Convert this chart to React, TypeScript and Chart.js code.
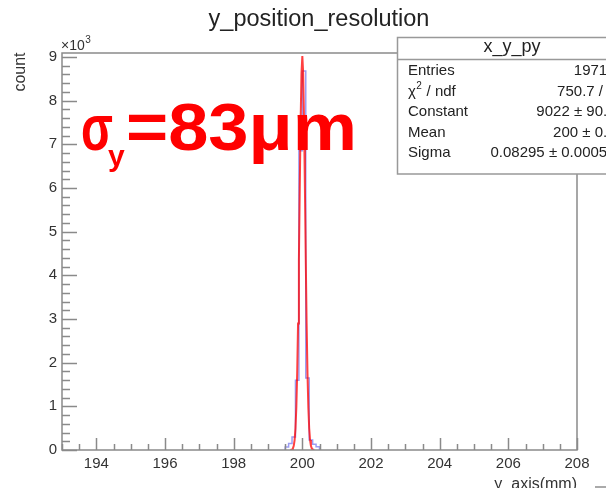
import React, { useEffect, useRef } from "react";
import { Chart, registerables } from "chart.js";

Chart.register(...registerables);

// Histogram: lower bin edges (0.1 mm bins) and counts; last edge closes the last bin
const histEdges = [199.5, 199.6, 199.7, 199.8, 199.9, 200.0, 200.1, 200.2, 200.3, 200.4, 200.5];
const histCounts = [70, 150, 300, 1600, 6850, 8680, 1650, 230, 130, 75, 0];

// Gaussian fit curve points
const fitX = [
  199.65, 199.675, 199.7, 199.725, 199.75, 199.775, 199.8, 199.825, 199.85, 199.875,
  199.9, 199.925, 199.95, 199.975, 200.0, 200.025, 200.05, 200.075, 200.1, 200.125,
  200.15, 200.175, 200.2, 200.225, 200.25, 200.275, 200.3, 200.325, 200.35,
];
const fitY = [
  1, 4, 13, 37, 96, 228, 493, 975, 1759, 2899,
  4363, 5995, 7523, 8621, 9022, 8621, 7523, 5995, 4363, 2899,
  1759, 975, 493, 228, 96, 37, 13, 4, 1,
];

const xTicks = [194, 196, 198, 200, 202, 204, 206, 208];
const yTicks = [0, 1000, 2000, 3000, 4000, 5000, 6000, 7000, 8000, 9000];
const xMinorStep = 0.5;
const yMinorStep = 200;

const titleText = "y_position_resolution";
const xTitle = "y_axis(mm)";
const yTitle = "count";
const statsTitle = "x_y_py";
const statsLabels = ["Entries", "χ2 / ndf", "Constant", "Mean", "Sigma"];
const statsValues = ["19710", "750.7 / 7", "9022 ± 90.4", "200 ± 0.0", "0.08295 ± 0.00054"];
const annotationMain = "σ";
const annotationSub = "y";
const annotationRest = "=83μm";

const FONT = "'Liberation Sans', Arial, Helvetica, sans-serif";

const decorPlugin = {
  id: "rootDecor",
  afterDatasetsDraw(chart: any) {
    const { ctx, chartArea, scales } = chart;
    const xs = scales.x;
    const ys = scales.y;
    const { left, right, top, bottom } = chartArea;
    ctx.save();
    ctx.strokeStyle = "#8a8a8a";
    ctx.lineWidth = 1.5;
    ctx.beginPath();
    for (let v = xs.min; v <= xs.max + 1e-9; v += xMinorStep) {
      const px = Math.round(xs.getPixelForValue(v)) + 0.5;
      const major = xTicks.some((t) => Math.abs(t - v) < 1e-6);
      const len = major ? 12 : 6;
      ctx.moveTo(px, bottom);
      ctx.lineTo(px, bottom - len);
    }
    for (let v = 0; v <= ys.max + 1e-9; v += yMinorStep) {
      const py = Math.round(ys.getPixelForValue(v)) + 0.5;
      const major = yTicks.some((t) => Math.abs(t - v) < 1e-6);
      const len = major ? 15 : 8;
      ctx.moveTo(left, py);
      ctx.lineTo(left + len, py);
    }
    ctx.stroke();
    ctx.strokeRect(left, top, right - left, bottom - top);
    ctx.restore();
  },
  afterDraw(chart: any) {
    const { ctx, chartArea } = chart;
    ctx.save();
    ctx.fillStyle = "#222";
    ctx.font = `23.5px ${FONT}`;
    ctx.textAlign = "center";
    ctx.textBaseline = "middle";
    ctx.fillText(titleText, 319, 20);

    ctx.textAlign = "left";
    ctx.textBaseline = "alphabetic";
    ctx.font = `14px ${FONT}`;
    ctx.fillStyle = "#333";
    ctx.fillText("×10", chartArea.left - 1, 50);
    const w10 = ctx.measureText("×10").width;
    ctx.font = `10px ${FONT}`;
    ctx.fillText("3", chartArea.left - 1 + w10 + 0.5, 43);

    ctx.save();
    ctx.translate(21, 72);
    ctx.rotate(-Math.PI / 2);
    ctx.font = `16px ${FONT}`;
    ctx.textAlign = "center";
    ctx.textBaseline = "middle";
    ctx.fillStyle = "#333";
    ctx.fillText(yTitle, 0, 0);
    ctx.restore();

    ctx.font = `16px ${FONT}`;
    ctx.textAlign = "right";
    ctx.textBaseline = "alphabetic";
    ctx.fillStyle = "#333";
    ctx.fillText(xTitle, chartArea.right, 488.5);

    ctx.fillStyle = "#aaa";
    ctx.fillRect(595, 486, 11, 2);

    const bx = 397.5, by = 37.5, bw = 260, bh = 136.5;
    ctx.fillStyle = "#fff";
    ctx.fillRect(bx, by, bw, bh);
    ctx.strokeStyle = "#999";
    ctx.lineWidth = 1.5;
    ctx.strokeRect(bx, by, bw, bh);
    ctx.beginPath();
    ctx.moveTo(bx, 59.5);
    ctx.lineTo(bx + bw, 59.5);
    ctx.stroke();
    ctx.fillStyle = "#222";
    ctx.font = `18px ${FONT}`;
    ctx.textAlign = "center";
    ctx.textBaseline = "middle";
    ctx.fillText(statsTitle, 512, 47);
    ctx.font = `15px ${FONT}`;
    const rowsY = [71, 91.5, 112, 132.5, 153];
    for (let i = 0; i < statsLabels.length; i++) {
      ctx.textAlign = "left";
      const lab = statsLabels[i];
      if (lab.startsWith("χ2")) {
        ctx.font = `15px ${FONT}`;
        ctx.fillText("χ", 408, rowsY[i]);
        const wc = ctx.measureText("χ").width;
        ctx.font = `10px ${FONT}`;
        ctx.fillText("2", 408 + wc + 0.5, rowsY[i] - 5);
        const w2 = ctx.measureText("2").width;
        ctx.font = `15px ${FONT}`;
        ctx.fillText(lab.slice(2), 408 + wc + w2 + 1, rowsY[i]);
      } else {
        ctx.fillText(lab, 408, rowsY[i]);
      }
      ctx.textAlign = "right";
      ctx.fillText(statsValues[i], 615.5, rowsY[i]);
    }

    // big red annotation
    ctx.fillStyle = "#ff0000";
    ctx.textAlign = "left";
    ctx.textBaseline = "alphabetic";
    ctx.font = `bold 64px ${FONT}`;
    const ws = ctx.measureText(annotationMain).width;
    ctx.save();
    ctx.translate(81, 150);
    ctx.scale(32 / ws, 1);
    ctx.fillText(annotationMain, 0, 0);
    ctx.restore();
    ctx.font = `bold 30px ${FONT}`;
    ctx.fillText(annotationSub, 108, 166);
    ctx.font = `bold 66px ${FONT}`;
    const wr = ctx.measureText(annotationRest).width;
    ctx.save();
    ctx.translate(126, 150);
    ctx.scale(231 / wr, 1);
    ctx.fillText(annotationRest, 0, 0);
    ctx.restore();
    ctx.restore();
  },
};

export default function App() {
  const canvasRef = useRef<HTMLCanvasElement | null>(null);
  useEffect(() => {
    if (!canvasRef.current) return;
    const histData = [{ x: histEdges[0], y: 0 }].concat(histEdges.map((x, i) => ({ x, y: histCounts[i] })));
    const fitData = fitX.map((x, i) => ({ x, y: fitY[i] }));
    const chart = new Chart(canvasRef.current, {
      type: "line",
      data: {
        datasets: [
          {
            label: "fit",
            data: fitData,
            borderColor: "rgba(255,0,0,0.75)",
            borderWidth: 2,
            pointRadius: 0,
            tension: 0,
            order: 0,
          },
          {
            label: "hist",
            data: histData,
            stepped: "before",
            borderColor: "rgba(90,90,235,0.6)",
            borderWidth: 1.5,
            pointRadius: 0,
            order: 1,
          },
        ],
      },
      options: {
        responsive: false,
        maintainAspectRatio: false,
        animation: false,
        devicePixelRatio: 1,
        layout: { padding: { left: 0, right: 29, top: 53, bottom: 0 } },
        plugins: { legend: { display: false }, tooltip: { enabled: false }, title: { display: false } },
        scales: {
          x: {
            type: "linear",
            min: 193,
            max: 208,
            grid: { display: false, drawTicks: false },
            border: { display: false },
            ticks: {
              font: { family: FONT, size: 15 },
              color: "#333",
              padding: 5,
              maxRotation: 0,
              autoSkip: false,
            },
            afterBuildTicks: (s: any) => {
              s.ticks = xTicks.map((v) => ({ value: v }));
            },
            afterFit: (s: any) => {
              s.height = 38;
            },
          },
          y: {
            type: "linear",
            min: 0,
            max: 9091,
            grid: { display: false, drawTicks: false },
            border: { display: false },
            ticks: {
              font: { family: FONT, size: 15 },
              color: "#333",
              padding: 5,
              autoSkip: false,
              callback: (v: any) => String(Number(v) / 1000),
            },
            afterBuildTicks: (s: any) => {
              s.ticks = yTicks.map((v) => ({ value: v }));
            },
            afterFit: (s: any) => {
              s.width = 62;
            },
          },
        },
      },
      plugins: [decorPlugin],
    });
    return () => chart.destroy();
  }, []);
  return (
    <div style={{ position: "absolute", left: 0, top: 0, width: 606, height: 488, background: "#fff", overflow: "hidden" }}>
      <canvas ref={canvasRef} width={606} height={488} style={{ display: "block" }} />
    </div>
  );
}
